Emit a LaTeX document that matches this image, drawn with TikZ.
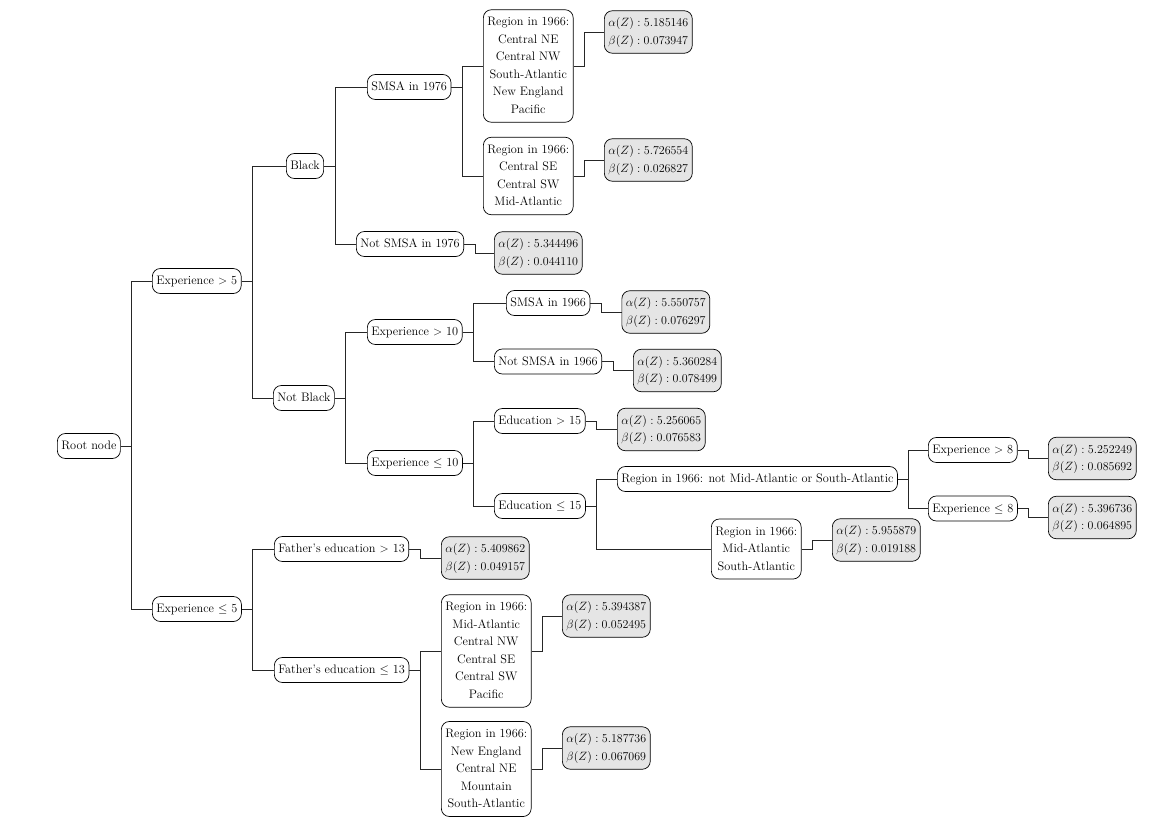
\documentclass[tikz,border=0pt]{standalone}
\usepackage{amsmath}
\newcommand{\tb}[1]{\begin{tabular}{@{}c@{}}#1\end{tabular}}
\begin{document}
\begin{tikzpicture}[x=1pt,y=-1pt,
  nd/.style={draw, rounded corners=8pt, inner xsep=4pt, inner ysep=3.75pt, anchor=west,
     line width=0.7pt, font=\fontsize{12.3}{17.5}\selectfont},
  lf/.style={nd, fill=black!10},
  ed/.style={line width=0.8pt, black!85}]
\useasboundingbox (0,0) rectangle (1151,825);
% nodes
\node[nd] (root) at (57,446) {\tb{Root node}};
\node[nd] (e5) at (152,281) {\tb{Experience $>$ 5}};
\node[nd] (e5n) at (152,609) {\tb{Experience $\leq$ 5}};
\node[nd] (black) at (286,166) {\tb{Black}};
\node[nd] (nblack) at (273,398) {\tb{Not Black}};
\node[nd] (smsa76) at (367,87) {\tb{SMSA in 1976}};
\node[nd] (nsmsa76) at (356,244) {\tb{Not SMSA in 1976}};
\node[nd] (reg1) at (483,66) {\tb{Region in 1966:\\Central NE\\Central NW\\South-Atlantic\\New England\\Pacific}};
\node[nd] (reg2) at (483,176) {\tb{Region in 1966:\\Central SE\\Central SW\\Mid-Atlantic}};
\node[lf] (l1) at (604,32) {\tb{$\alpha(Z): 5.185146$\\$\beta(Z): 0.073947$}};
\node[lf] (l2) at (604,160) {\tb{$\alpha(Z): 5.726554$\\$\beta(Z): 0.026827$}};
\node[lf] (l3) at (494,253) {\tb{$\alpha(Z): 5.344496$\\$\beta(Z): 0.044110$}};
\node[nd] (e10) at (367,332) {\tb{Experience $>$ 10}};
\node[nd] (e10n) at (367,463) {\tb{Experience $\leq$ 10}};
\node[nd] (smsa66) at (506,303) {\tb{SMSA in 1966}};
\node[nd] (nsmsa66) at (494,361.5) {\tb{Not SMSA in 1966}};
\node[lf] (l4) at (621.5,312) {\tb{$\alpha(Z): 5.550757$\\$\beta(Z): 0.076297$}};
\node[lf] (l5) at (633,370.5) {\tb{$\alpha(Z): 5.360284$\\$\beta(Z): 0.078499$}};
\node[nd] (ed15) at (494,421) {\tb{Education $>$ 15}};
\node[nd] (ed15n) at (494,506) {\tb{Education $\leq$ 15}};
\node[lf] (l6) at (617,429.5) {\tb{$\alpha(Z): 5.256065$\\$\beta(Z): 0.076583$}};
\node[nd] (regL) at (617,479) {\tb{Region in 1966: not Mid-Atlantic or South-Atlantic}};
\node[nd] (regM) at (711,549) {\tb{Region in 1966:\\Mid-Atlantic\\South-Atlantic}};
\node[lf] (l7) at (832,540) {\tb{$\alpha(Z): 5.955879$\\$\beta(Z): 0.019188$}};
\node[nd] (e8) at (928,450) {\tb{Experience $>$ 8}};
\node[nd] (e8n) at (928,508.5) {\tb{Experience $\leq$ 8}};
\node[lf] (l8) at (1048,458.5) {\tb{$\alpha(Z): 5.252249$\\$\beta(Z): 0.085692$}};
\node[lf] (l9) at (1048,517.5) {\tb{$\alpha(Z): 5.396736$\\$\beta(Z): 0.064895$}};
\node[nd] (fe13) at (274,549) {\tb{Father's education $>$ 13}};
\node[nd] (fe13n) at (274,670) {\tb{Father's education $\leq$ 13}};
\node[lf] (l10) at (441,558) {\tb{$\alpha(Z): 5.409862$\\$\beta(Z): 0.049157$}};
\node[nd] (reg3) at (441,651) {\tb{Region in 1966:\\Mid-Atlantic\\Central NW\\Central SE\\Central SW\\Pacific}};
\node[nd] (reg4) at (441,769) {\tb{Region in 1966:\\New England\\Central NE\\Mountain\\South-Atlantic}};
\node[lf] (l11) at (562,616) {\tb{$\alpha(Z): 5.394387$\\$\beta(Z): 0.052495$}};
\node[lf] (l12) at (562,748) {\tb{$\alpha(Z): 5.187736$\\$\beta(Z): 0.067069$}};
% edges
\foreach \p/\c in {root/e5, root/e5n, e5/black, e5/nblack, black/smsa76, black/nsmsa76,
  smsa76/reg1, smsa76/reg2, reg1/l1, reg2/l2, nsmsa76/l3,
  nblack/e10, nblack/e10n, e10/smsa66, e10/nsmsa66, smsa66/l4, nsmsa66/l5,
  e10n/ed15, e10n/ed15n, ed15/l6, ed15n/regL, ed15n/regM, regM/l7,
  regL/e8, regL/e8n, e8/l8, e8n/l9,
  e5n/fe13, e5n/fe13n, fe13/l10, fe13n/reg3, fe13n/reg4, reg3/l11, reg4/l12}
  \draw[ed] (\p.east) -- ++(11,0) |- (\c.west);
\end{tikzpicture}
\end{document}
